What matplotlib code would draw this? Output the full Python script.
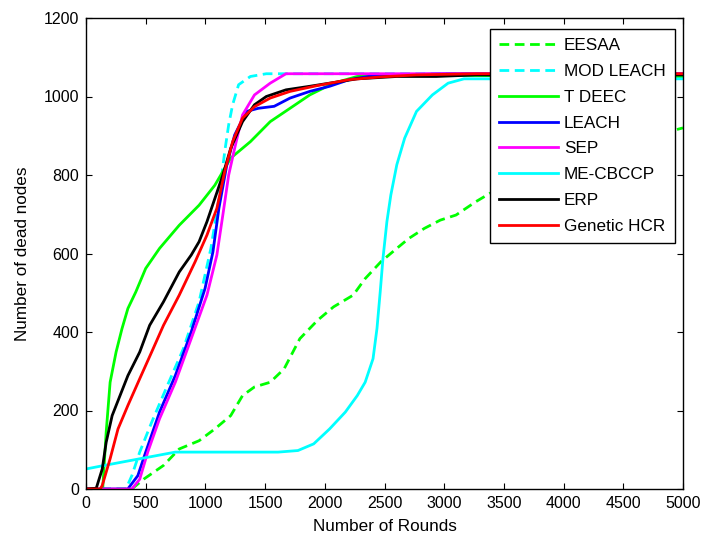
import matplotlib
matplotlib.use("Agg")
import matplotlib.pyplot as plt

plt.rcParams['font.family'] = ['Liberation Sans', 'DejaVu Sans']

labels = ["EESAA", "MOD LEACH", "T DEEC", "LEACH", "SEP", "ME-CBCCP", "ERP", "Genetic HCR"]

eesaa_x = [0, 384, 483, 649, 781, 947, 1079, 1212, 1311, 1411, 1543, 1659, 1791, 1940, 2073, 2238, 2338, 2470, 2603, 2702, 2834, 2967, 3099, 3265, 3381, 3600, 4000, 4500, 5000]
eesaa_y = [0, 0, 25, 60, 102, 123, 153, 187, 238, 260, 272, 306, 383, 430, 464, 494, 536, 579, 613, 638, 664, 685, 698, 732, 753, 780, 830, 880, 920]

modleach_x = [0, 334, 384, 450, 550, 682, 815, 947, 1046, 1113, 1162, 1195, 1228, 1278, 1377, 1510, 1675, 5000]
modleach_y = [0, 0, 34, 94, 170, 264, 357, 477, 613, 740, 860, 928, 979, 1030, 1051, 1058, 1058, 1058]

tdeec_x = [0, 140, 169, 202, 252, 301, 351, 417, 500, 616, 781, 947, 1079, 1212, 1377, 1543, 1709, 1874, 2073, 2272, 2470, 5000]
tdeec_y = [0, 0, 145, 272, 349, 408, 460, 502, 562, 613, 672, 723, 774, 843, 885, 936, 970, 1004, 1034, 1051, 1055, 1050]

leach_x = [0, 350, 434, 500, 616, 748, 881, 997, 1063, 1113, 1179, 1245, 1344, 1444, 1576, 1709, 1874, 2040, 2205, 2404, 2603, 3000, 5000]
leach_y = [0, 0, 34, 94, 196, 289, 400, 511, 604, 715, 825, 902, 962, 970, 975, 996, 1013, 1026, 1043, 1053, 1055, 1058, 1058]

sep_x = [0, 384, 450, 517, 616, 748, 881, 1013, 1096, 1146, 1195, 1245, 1311, 1411, 1543, 1675, 5000]
sep_y = [0, 0, 25, 94, 179, 272, 383, 494, 596, 698, 800, 868, 953, 1004, 1034, 1058, 1058]

mecbccp_x = [0, 152, 450, 748, 947, 1278, 1609, 1775, 1907, 2040, 2172, 2272, 2338, 2404, 2437, 2464, 2487, 2520, 2553, 2603, 2669, 2768, 2901, 3033, 3166, 5000]
mecbccp_y = [51, 60, 77, 94, 94, 94, 94, 98, 115, 153, 196, 238, 272, 332, 409, 502, 587, 681, 749, 826, 894, 962, 1004, 1034, 1045, 1045]

erp_x = [0, 86, 136, 169, 219, 285, 351, 450, 533, 649, 781, 881, 947, 1013, 1079, 1146, 1212, 1311, 1411, 1510, 1675, 1874, 2040, 2272, 2603, 2934, 3265, 5000]
erp_y = [0, 2, 51, 119, 187, 238, 289, 349, 417, 477, 553, 596, 630, 681, 740, 800, 868, 936, 979, 1000, 1017, 1026, 1034, 1045, 1051, 1051, 1055, 1055]

ghcr_x = [0, 119, 136, 202, 268, 351, 450, 550, 649, 781, 914, 1013, 1096, 1162, 1228, 1311, 1411, 1543, 1709, 1940, 2205, 2470, 2768, 3265, 5000]
ghcr_y = [0, 0, 9, 77, 153, 213, 281, 349, 417, 494, 579, 647, 715, 809, 885, 945, 974, 996, 1013, 1028, 1043, 1050, 1055, 1058, 1058]

xticks = [0, 500, 1000, 1500, 2000, 2500, 3000, 3500, 4000, 4500, 5000]
yticks = [0, 200, 400, 600, 800, 1000, 1200]

fig = plt.figure(figsize=(7.02, 5.35), dpi=100)
ax = fig.add_axes([86/702, 46/535, 597/702, 471/535])

series = [
    (eesaa_x, eesaa_y, '#00ff00', '--'),
    (modleach_x, modleach_y, '#00ffff', '--'),
    (tdeec_x, tdeec_y, '#00ff00', '-'),
    (leach_x, leach_y, '#0000ff', '-'),
    (sep_x, sep_y, '#ff00ff', '-'),
    (mecbccp_x, mecbccp_y, '#00ffff', '-'),
    (erp_x, erp_y, '#000000', '-'),
    (ghcr_x, ghcr_y, '#ff0000', '-'),
]
for (xs, ys, c, ls), lab in zip(series, labels):
    if ls == '--':
        ax.plot(xs, ys, color=c, linewidth=2, label=lab, dashes=(3.5, 2))
    else:
        ax.plot(xs, ys, color=c, linewidth=2, label=lab)

ax.set_xlim(0, 5000)
ax.set_ylim(0, 1200)
ax.set_xticks(xticks)
ax.set_yticks(yticks)
ax.tick_params(direction='in', top=True, right=True, labelsize=11.5, length=4, pad=5)
for sp in ax.spines.values():
    sp.set_linewidth(1)
ax.set_xlabel("Number of Rounds", fontsize=12.3)
ax.set_ylabel("Number of dead nodes", fontsize=12.3)
ax.xaxis.set_label_coords(0.5, -0.064)
ax.yaxis.set_label_coords(-0.093, 0.5)

leg = ax.legend(loc='upper right', bbox_to_anchor=(0.9866, 0.9766), borderaxespad=0,
                fontsize=12.3, handlelength=3.45, labelspacing=0.63, fancybox=False,
                framealpha=1, edgecolor='black', borderpad=0.55, handletextpad=0.35)
leg.get_frame().set_linewidth(1)

fig.savefig("out.png", dpi=100)
